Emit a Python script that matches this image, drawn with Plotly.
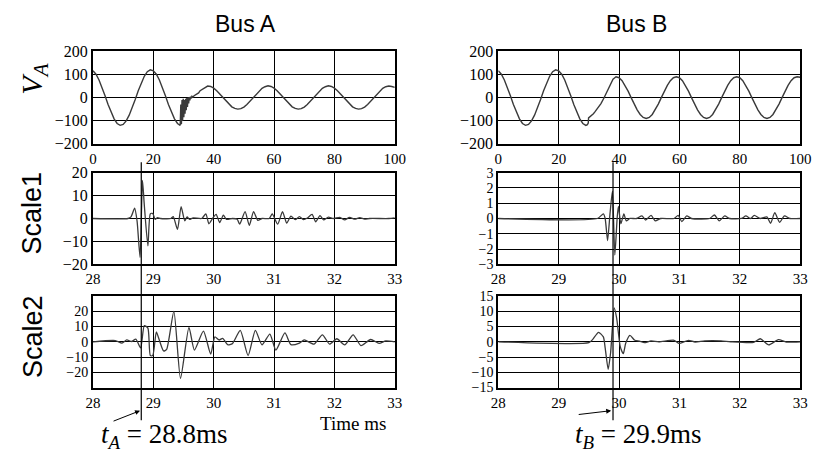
import plotly.graph_objects as go
from plotly.subplots import make_subplots

W, H = 817, 464

# ---------------- Phase voltage V_A, 0-100 ms ----------------
pre_t = list(range(0, 29))
pre_v = [116, 101, 76, 44, 8, -30, -64, -92, -112, -120, -116, -101, -76, -44, -8,
         30, 64, 92, 112, 120, 116, 101, 76, 44, 8, -30, -64, -92, -112]

# Bus A: fault burst then a reduced-amplitude wave
busA_fault_t = [28.6, 28.9, 29.1, 29.3, 29.5, 29.7, 29.9, 30.1, 30.3, 30.5, 30.7, 30.9,
                31.1, 31.3, 31.5, 31.7, 31.9, 32.1, 32.3, 32.5, 32.8, 33.1, 33.5, 34.0,
                34.5, 35.0, 35.5, 36.0, 37.0]
busA_fault_v = [-116, -120, -30, -115, -10, -100, -5, -85, -10, -70, -5, -55,
                -2, -40, 0, -25, 2, -12, 4, -4, 6, 2, 8, 12,
                18, 20, 30, 34, 45]
busA_post_t = list(range(38, 101))
busA_post_v = [50, 48, 41, 30, 16, 1, -14, -28, -40, -47, -50, -48, -41, -30, -16, -1, 14, 28, 40, 47,
               51, 48, 41, 30, 16, 1, -14, -28, -40, -47, -50, -48, -41, -30, -16, -1, 14, 28, 40, 47,
               51, 48, 41, 30, 16, 1, -14, -28, -40, -47, -50, -48, -41, -30, -16, -1, 14, 28, 40, 47,
               50, 48, 44]

# Bus B: small step at the fault, then a slightly reduced wave
busB_fault_t = [29.0, 29.5, 29.8, 29.9, 30.3, 30.7, 31.0, 31.5, 32.0, 33.0, 34.0, 35.0,
                36.0, 37.0, 38.0]
busB_fault_v = [-120, -117, -110, -88, -84, -80, -75, -70, -62, -46, -26, -2,
                28, 58, 80]
busB_post_t = list(range(39, 101))
busB_post_v = [90, 86, 73, 53, 28, 0, -28, -53, -73, -86, -90, -86, -73, -53, -28, 0, 28, 53, 73, 86,
               90, 86, 73, 53, 28, 0, -28, -53, -73, -86, -90, -86, -73, -53, -28, 0, 28, 53, 73, 86,
               90, 86, 73, 53, 28, 0, -28, -53, -73, -86, -90, -86, -73, -53, -28, 0, 28, 53, 73, 86,
               90, 88]

# ---------------- Wavelet coefficients, 28-33 ms ----------------
s1a_t = [28.0, 28.58, 28.63, 28.69, 28.73, 28.78, 28.82, 28.85, 28.91, 28.95, 28.99, 29.03,
         29.07, 29.12, 29.29, 29.33, 29.40, 29.46, 29.52, 29.56, 29.60, 29.66, 29.80, 29.87,
         29.92, 29.99, 30.04, 30.10, 30.16, 30.21, 30.31, 30.39, 30.43, 30.52, 30.59, 30.66,
         30.73, 30.80, 30.92, 30.97, 31.06, 31.14, 31.21, 31.28, 31.35, 31.42, 31.49, 31.55,
         31.63, 31.69, 31.76, 31.82, 31.90, 31.98, 32.09, 32.17, 32.25, 32.34, 32.42, 32.50,
         32.58, 32.90, 33.0]
s1a_v = [0, 0, 0.7, 4.5, -1, -17, 16.7, 6, -12, 2, 2.2, -0.4,
         0.4, 0, 0, 0.8, -4.8, 5.2, -1, 0.7, -0.4, 0.3, 0, 2,
         -2.3, 0.4, 1.8, -1.8, 1.5, -0.4, 0, -0.3, -2.5, 3, -3, 3,
         -0.8, 0, 0, 2, -2.5, 3, -2, 1, -0.5, 0.8, -0.5, 0.2,
         1.8, -1.5, 1.3, -0.6, 0.6, 0, 0.5, -0.6, 0.5, -0.3, 0.4, -0.3,
         0, 0, 0.3]

s1b_t = [28.0, 29.64, 29.74, 29.77, 29.81, 29.85, 29.89, 29.93, 29.97, 29.99, 30.03, 30.08,
         30.12, 30.18, 30.29, 30.38, 30.44, 30.53, 30.60, 30.69, 30.91, 30.98, 31.04, 31.12,
         31.20, 31.50, 31.58, 31.66, 31.75, 31.83, 32.03, 32.10, 32.18, 32.24, 32.34, 32.45,
         32.51, 32.58, 32.66, 32.74, 32.83, 33.0]
s1b_v = [0, 0, 0.3, 0, -1.45, 0.3, 1.8, -2.4, 0.1, 0.8, -0.35, 0.3,
         -0.15, 0, 0, 0.17, -0.1, 0.2, -0.15, 0, 0, 0.2, -0.2, 0.17,
         0, 0, 0.23, -0.15, 0.17, 0, 0, 0.17, 0, 0.2, 0, 0.1,
         -0.32, 0.38, -0.25, 0.17, 0, 0]

s2a_t = [28.0, 28.37, 28.48, 28.56, 28.64, 28.71, 28.79, 28.85, 28.91, 28.95, 28.99, 29.05,
         29.10, 29.17, 29.22, 29.34, 29.45, 29.59, 29.68, 29.83, 29.95, 30.02, 30.09, 30.15,
         30.23, 30.31, 30.44, 30.57, 30.69, 30.80, 30.93, 31.03, 31.18, 31.28, 31.42, 31.50,
         31.66, 31.80, 31.92, 32.04, 32.17, 32.31, 32.44, 32.60, 32.74, 32.85, 33.0]
s2a_v = [0, 0.8, -0.8, 1.2, 0.2, 1.7, -4, 10.6, 9, -9, -9, 6.5,
         1, -6, -5, 20, -24, 9.5, -5.4, 7, -8, 3.3, 1.2, 2.3,
         -1.9, -1.2, 7.5, -9, 7.5, -2, 5, -5.4, 5.8, -1.9, -0.8, 1.2,
         -1.5, 4.6, -1.5, 2, -2, 4.6, -2.5, 1.5, -1, 0.6, 0]

s2b_t = [28.0, 29.50, 29.56, 29.66, 29.74, 29.77, 29.82, 29.86, 29.92, 29.96, 30.02, 30.07,
         30.11, 30.18, 30.26, 30.34, 30.42, 30.53, 30.66, 30.91, 30.99, 31.15, 31.26, 31.42,
         31.69, 31.85, 32.23, 32.34, 32.48, 32.64, 32.77, 33.0]
s2b_v = [0, -0.3, 0.7, 3.1, 1.6, -2, -9, -3.6, 11.1, 7.8, -1.6, -3.9,
         -0.5, 2.1, 0.5, 0.2, -0.3, 0.3, 0, 0.5, -0.5, 0.5, -0.1, 0.3,
         0.3, 0, -0.2, 1, -1, 0.7, -0.1, 0]

# detected arrival times (ms)
t_arrival_A = 28.8
t_arrival_B = 29.9

TRACE = "#3a3a3a"
SERIF = "Liberation Serif, Times New Roman, serif"
SANS = "Liberation Sans, Arial, sans-serif"

fig = make_subplots(rows=3, cols=2)

fig.add_trace(go.Scatter(x=pre_t + busA_fault_t + busA_post_t,
                         y=pre_v + busA_fault_v + busA_post_v,
                         mode="lines", line=dict(color=TRACE, width=1.4)), row=1, col=1)
fig.add_trace(go.Scatter(x=pre_t + busB_fault_t + busB_post_t,
                         y=pre_v + busB_fault_v + busB_post_v,
                         mode="lines", line=dict(color=TRACE, width=1.4)), row=1, col=2)
for (xs, ys, r, c) in [(s1a_t, s1a_v, 2, 1), (s1b_t, s1b_v, 2, 2),
                       (s2a_t, s2a_v, 3, 1), (s2b_t, s2b_v, 3, 2)]:
    fig.add_trace(go.Scatter(x=xs, y=ys, mode="lines",
                             line=dict(color=TRACE, width=1.3, shape="spline", smoothing=0.6)),
                  row=r, col=c)

# panel placement (paper fractions)
col_dom = [[87 / W, 396 / W], [502 / W, 811 / W]]
row_dom = [[1 - 141 / H, 1 - 45 / H], [1 - 266 / H, 1 - 171 / H], [1 - 394 / H, 1 - 299 / H]]

axis_common = dict(showgrid=True, gridcolor="black", gridwidth=1, showline=True,
                   linecolor="black", linewidth=2, mirror=True, ticks="", zeroline=False)

def tick_font(size):
    return dict(family=SERIF, size=size, color="black")

y_specs = {
    (1, 1): dict(range=[-200, 200], dtick=100, tickfont=tick_font(16)),
    (1, 2): dict(range=[-200, 200], dtick=100, tickfont=tick_font(16)),
    (2, 1): dict(range=[-20, 20], dtick=10, tickfont=tick_font(16)),
    (2, 2): dict(range=[-3, 3], dtick=1, tickfont=tick_font(14)),
    (3, 1): dict(range=[-30, 30], tickvals=[-20, -10, 0, 10, 20], tickfont=tick_font(14)),
    (3, 2): dict(range=[-15, 15], dtick=5, tickfont=tick_font(14)),
}

for r in range(1, 4):
    for c in range(1, 3):
        xr = dict(range=[0, 100], dtick=20) if r == 1 else dict(range=[28, 33], dtick=1)
        fig.update_xaxes(domain=col_dom[c - 1], tick0=0, tickfont=tick_font(15), **xr,
                         **axis_common, row=r, col=c)
        fig.update_yaxes(domain=row_dom[r - 1], tick0=0, **y_specs[(r, c)], **axis_common,
                         row=r, col=c)

# arrival-time markers spanning the wavelet panels
for xref, tv in [("x3", t_arrival_A), ("x4", t_arrival_B)]:
    fig.add_shape(type="line", xref=xref, yref="paper", x0=tv, x1=tv,
                  y0=1 - 428 / H, y1=1 - 160 / H, line=dict(color="black", width=1.2))

annotations = [
    dict(text="Bus A", x=243 / W, y=1 - 17 / H, font=dict(family=SANS, size=23)),
    dict(text="Bus B", x=643 / W, y=1 - 17 / H, font=dict(family=SANS, size=23)),
    dict(text="<i>V</i><sub><i>A</i></sub>", x=27 / W, y=1 - 74 / H, textangle=-90,
         font=dict(family=SERIF, size=30)),
    dict(text="Scale1", x=25 / W, y=1 - 213 / H, textangle=-90,
         font=dict(family=SANS, size=27)),
    dict(text="Scale2", x=25 / W, y=1 - 341 / H, textangle=-90,
         font=dict(family=SANS, size=27)),
    dict(text="Time ms", x=353 / W, y=1 - 431 / H, font=dict(family=SERIF, size=19)),
    dict(text="<i>t</i><sub><i>A</i></sub> = 28.8ms", x=160 / W, y=1 - 444 / H,
         font=dict(family=SERIF, size=27)),
    dict(text="<i>t</i><sub><i>B</i></sub> = 29.9ms", x=645 / W, y=1 - 444 / H,
         font=dict(family=SERIF, size=27)),
]
for a in annotations:
    a.update(xref="paper", yref="paper", showarrow=False, xanchor="center", yanchor="middle")
    a["font"]["color"] = "black"
    fig.add_annotation(**a)

# pointer arrows toward the arrival markers
fig.add_annotation(x=t_arrival_A - 0.02, y=1 - 418 / H, xref="x5", yref="paper", text="",
                   showarrow=True, ax=-28, ay=11, arrowhead=2, arrowsize=1, arrowwidth=1,
                   arrowcolor="black")
fig.add_annotation(x=t_arrival_B - 0.03, y=1 - 418 / H, xref="x6", yref="paper", text="",
                   showarrow=True, ax=-34, ay=4, arrowhead=2, arrowsize=1, arrowwidth=1,
                   arrowcolor="black")

fig.update_layout(width=W, height=H, margin=dict(l=0, r=0, t=0, b=0),
                  font=dict(family=SERIF, color="black"),
                  paper_bgcolor="white", plot_bgcolor="white", showlegend=False)

fig.write_html("out.html")
